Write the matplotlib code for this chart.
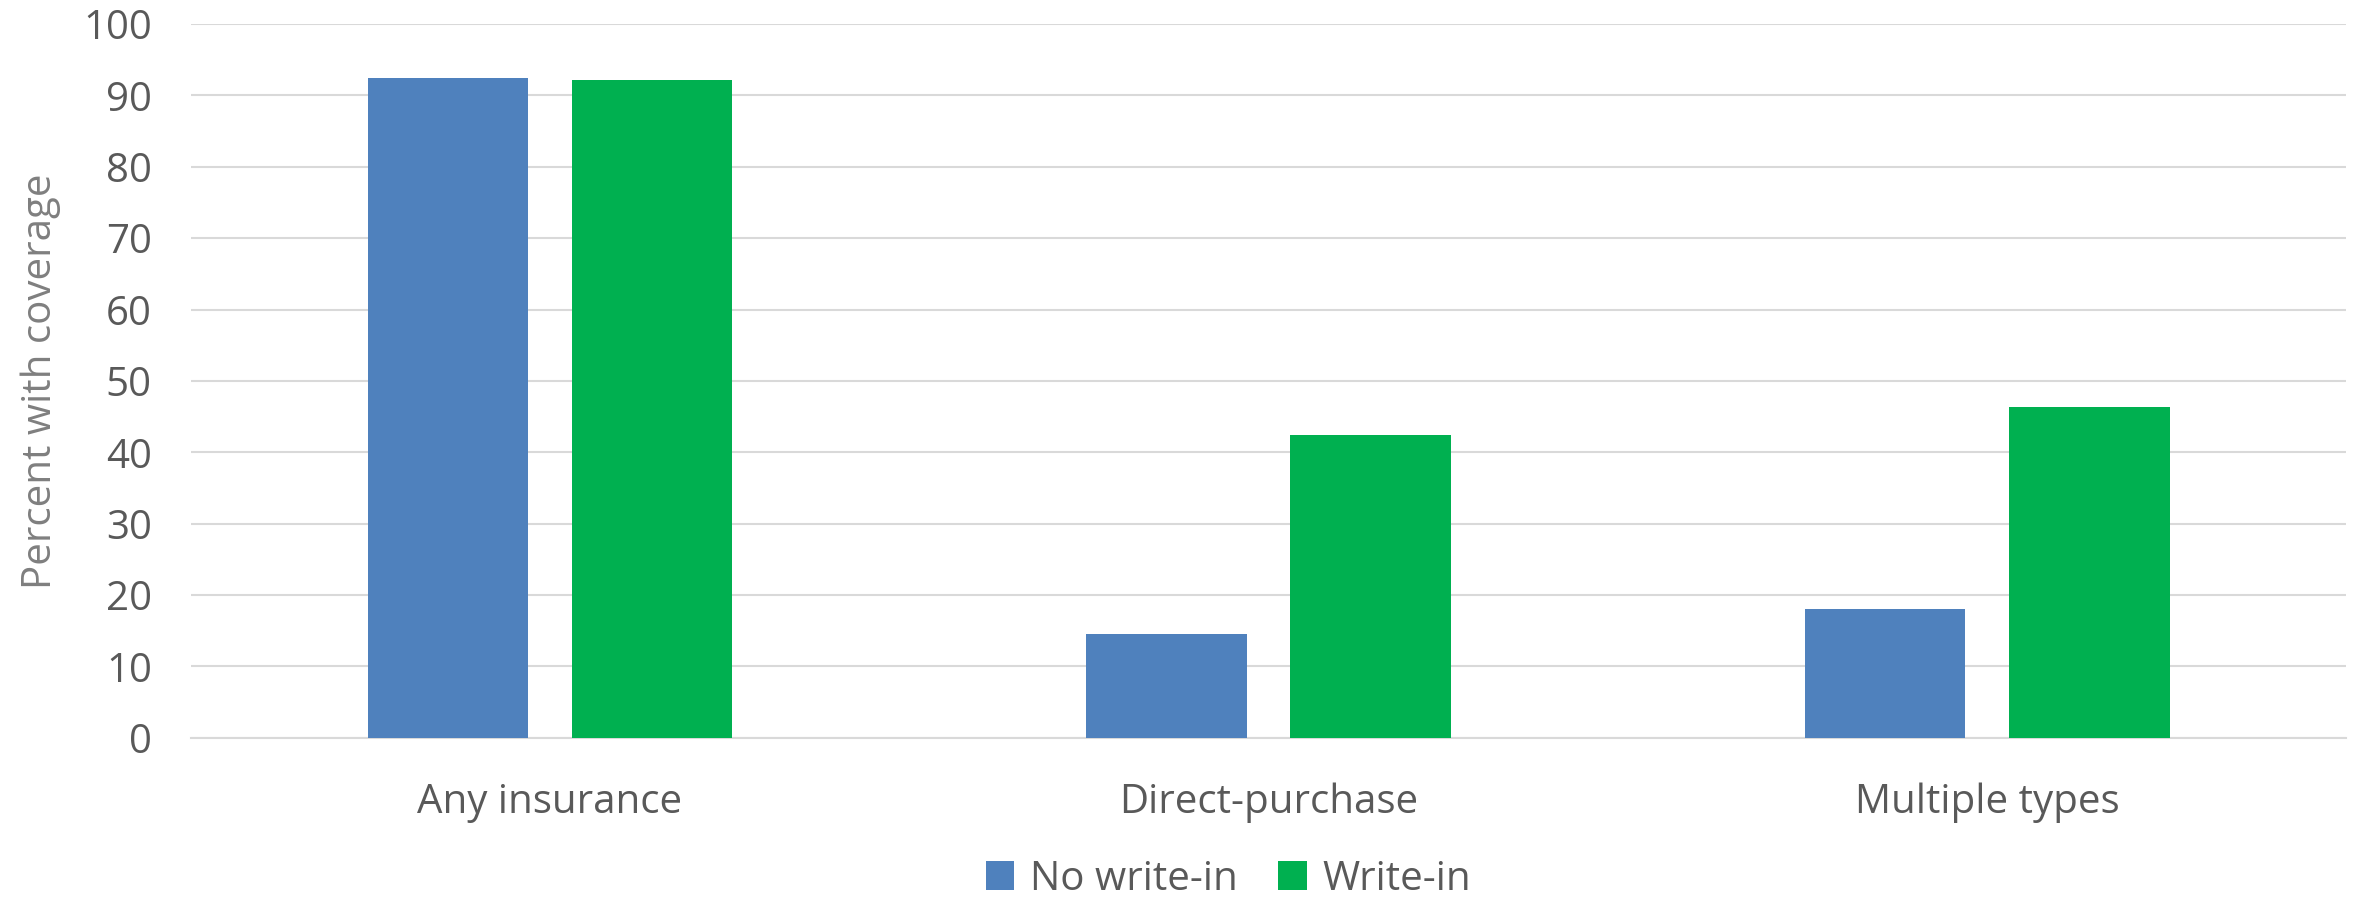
import numpy as np
import matplotlib.pyplot as plt

# coverage by type, percent
categories = ["Any insurance", "Direct-purchase", "Multiple types"]
no_writein = [92.5, 14.6, 18.1]
writein = [92.1, 42.4, 46.3]

plt.rcParams['font.family'] = ['Open Sans', 'DejaVu Sans']

fig = plt.figure(figsize=(23.54, 9), dpi=100)
ax = fig.add_axes([0.081, 0.1803, 0.9158, 0.793])

x = np.arange(len(categories))
w = 0.2235
off = 0.142

ax.bar(x - off, no_writein, w, color='#4F81BD', label='No write-in', zorder=3)
ax.bar(x + off, writein, w, color='#00B050', label='Write-in', zorder=3)

ax.set_xlim(-0.5, len(categories) - 0.5)
ax.set_ylim(0, 100)
ax.set_yticks(np.arange(0, 101, 10))
ax.set_xticks(x)
ax.set_xticklabels(categories)

ax.grid(axis='y', color='#D9D9D9', linewidth=1.5, zorder=0)
for s in ['top', 'right', 'left']:
    ax.spines[s].set_visible(False)
ax.spines['bottom'].set_color('#D9D9D9')
ax.spines['bottom'].set_linewidth(1.5)

ax.tick_params(axis='both', length=0, labelsize=29, colors='#595959')
ax.tick_params(axis='y', pad=28)
ax.tick_params(axis='x', pad=32)
ax.set_ylabel('Percent with coverage', fontsize=29, color='#7F7F7F', labelpad=16)

ax.legend(loc='lower center', bbox_to_anchor=(0.522, -0.022), bbox_transform=fig.transFigure,
          ncol=2, frameon=False, fontsize=29, labelcolor='#595959',
          handlelength=0.7, handleheight=0.7, handletextpad=0.4, columnspacing=1.0,
          borderaxespad=0.1)

fig.savefig('out.png', dpi=100)
